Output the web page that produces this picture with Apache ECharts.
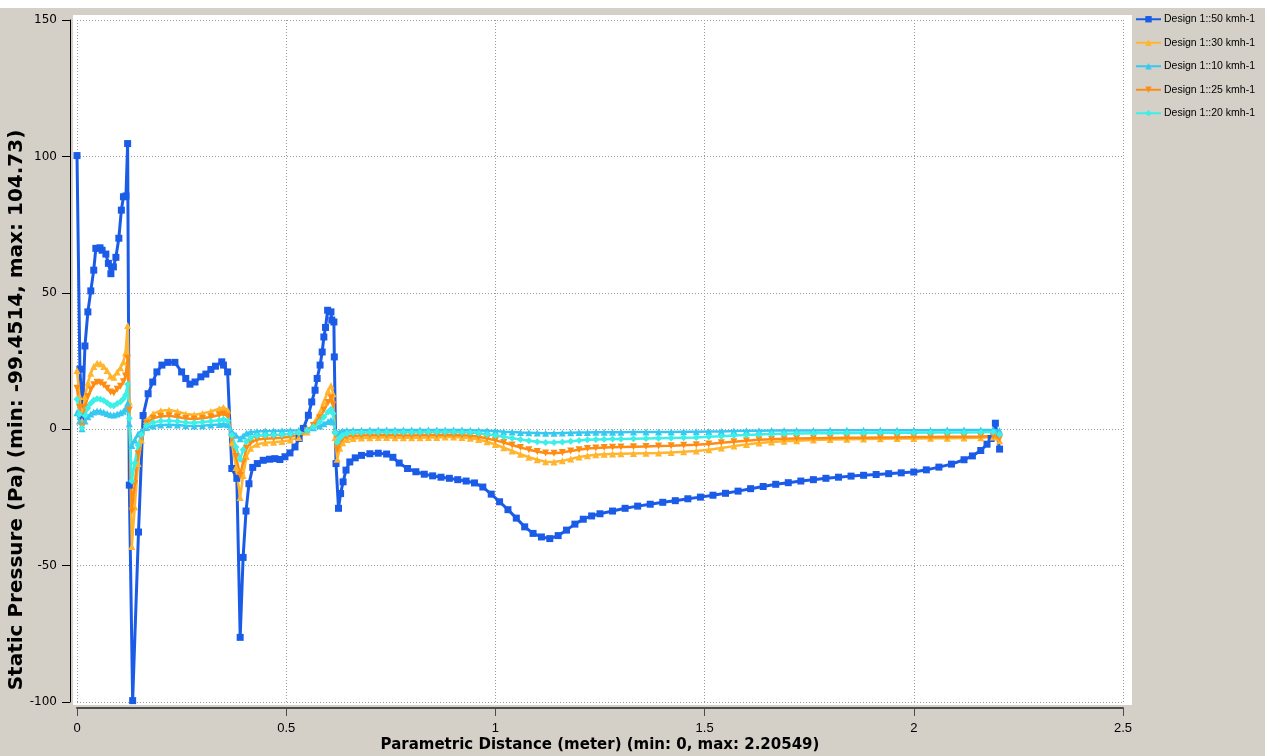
<!DOCTYPE html>
<html><head><meta charset="utf-8">
<script src="https://cdn.jsdelivr.net/npm/echarts@6/dist/echarts.min.js"></script>
<style>html,body{margin:0;padding:0;background:#d4d0c8;}#c{width:1265px;height:756px;}</style>
</head><body><div id="c"></div>
<script>
const seriesNames = ['Design 1::50 kmh-1','Design 1::30 kmh-1','Design 1::10 kmh-1','Design 1::25 kmh-1','Design 1::20 kmh-1'];
const xTicks = [0, 0.5, 1, 1.5, 2, 2.5];
const yTicks = [-100, -50, 0, 50, 100, 150];

const s50 = [[0,100.3],[0.007,22],[0.013,4.5],[0.019,30.5],[0.026,43],[0.033,50.7],[0.040,58.3],[0.045,66.3],[0.055,66.5],[0.060,65.6],[0.069,64.2],[0.075,60.8],[0.081,57],[0.087,59.5],[0.093,63],[0.100,70],[0.106,80.3],[0.111,85.2],[0.117,85.5],[0.121,104.7],[0.125,-20.5],[0.133,-99.5],[0.147,-37.7],[0.158,5],[0.170,13],[0.181,17.3],[0.191,21],[0.203,23.5],[0.217,24.5],[0.234,24.5],[0.250,21],[0.260,18.6],[0.270,16.5],[0.282,17.3],[0.296,19.2],[0.308,20.2],[0.320,21.9],[0.331,23.1],[0.346,24.7],[0.350,23.5],[0.360,21],[0.370,-14.4],[0.382,-18],[0.390,-76.3],[0.397,-47],[0.404,-30],[0.411,-20],[0.420,-14],[0.431,-12.6],[0.445,-11.4],[0.460,-11],[0.473,-10.8],[0.485,-11.1],[0.497,-10.1],[0.509,-8.7],[0.521,-6.5],[0.531,-3.4],[0.541,0.3],[0.553,5.1],[0.561,10],[0.569,14.3],[0.574,18.6],[0.581,23.5],[0.586,28.3],[0.590,33.8],[0.594,37.3],[0.599,43.6],[0.607,43],[0.609,40],[0.614,39.3],[0.615,26.5],[0.619,-12.6],[0.625,-29],[0.630,-23.6],[0.636,-19.3],[0.643,-15],[0.652,-12],[0.665,-10.5],[0.68,-9.6],[0.70,-9],[0.72,-8.8],[0.74,-9.1],[0.755,-10.3],[0.77,-12.4],[0.79,-14.4],[0.81,-15.6],[0.83,-16.5],[0.85,-17.1],[0.87,-17.6],[0.89,-18],[0.91,-18.5],[0.93,-19],[0.95,-19.7],[0.97,-21.2],[0.99,-23.8],[1.01,-26.6],[1.03,-29.5],[1.05,-32.6],[1.07,-35.8],[1.09,-38.2],[1.11,-39.5],[1.13,-40.1],[1.15,-39],[1.17,-37],[1.19,-34.8],[1.21,-33],[1.23,-31.8],[1.25,-31],[1.28,-30],[1.31,-29],[1.34,-28.2],[1.37,-27.5],[1.40,-26.8],[1.43,-26.2],[1.46,-25.5],[1.49,-24.9],[1.52,-24.2],[1.55,-23.5],[1.58,-22.7],[1.61,-21.8],[1.64,-21],[1.67,-20.2],[1.70,-19.6],[1.73,-19],[1.76,-18.5],[1.79,-18],[1.82,-17.6],[1.85,-17.2],[1.88,-16.9],[1.91,-16.6],[1.94,-16.3],[1.97,-16],[2.00,-15.7],[2.03,-14.9],[2.06,-13.9],[2.09,-12.8],[2.12,-11.2],[2.14,-9.8],[2.16,-7.8],[2.175,-5.5],[2.185,-3.4],[2.195,2.2],[2.205,-7.3]];

const s30 = [[0,21.5],[0.006,12],[0.012,3],[0.019,12],[0.026,17],[0.033,20.5],[0.040,23],[0.048,24.2],[0.056,24],[0.064,23],[0.072,21.5],[0.080,19.5],[0.088,19],[0.096,21],[0.104,22.5],[0.111,24.7],[0.116,28],[0.121,38],[0.125,10],[0.131,-43],[0.138,-28.5],[0.146,-12.6],[0.154,-4],[0.166,3.3],[0.182,5.7],[0.20,6.8],[0.22,7],[0.24,6.5],[0.26,5.6],[0.28,5.3],[0.30,5.8],[0.32,6.5],[0.34,7.5],[0.35,8],[0.36,7],[0.37,-5],[0.38,-14],[0.39,-25],[0.397,-17],[0.405,-10],[0.415,-7],[0.43,-5.5],[0.45,-5],[0.47,-4.8],[0.49,-4.5],[0.51,-4],[0.53,-3],[0.55,-1],[0.565,2],[0.58,6],[0.59,10],[0.60,14],[0.607,16],[0.612,13],[0.617,-3],[0.622,-11],[0.628,-7],[0.635,-5],[0.645,-3.8],[0.66,-3.4],[0.68,-3.2],[0.70,-3.1],[0.72,-3],[0.74,-3],[0.76,-3.1],[0.78,-3.1],[0.80,-3.1],[0.82,-3.1],[0.84,-3],[0.86,-3],[0.88,-2.9],[0.90,-2.9],[0.92,-3],[0.94,-3.3],[0.96,-3.8],[0.98,-4.6],[1.00,-5.6],[1.02,-6.8],[1.04,-8],[1.06,-9.2],[1.08,-10.3],[1.10,-11.2],[1.12,-11.9],[1.14,-12],[1.16,-11.6],[1.18,-10.9],[1.20,-10.2],[1.22,-9.7],[1.24,-9.4],[1.26,-9.2],[1.28,-9.1],[1.30,-9],[1.33,-8.9],[1.36,-8.8],[1.39,-8.7],[1.42,-8.5],[1.45,-8.3],[1.48,-8],[1.51,-7.5],[1.54,-6.9],[1.57,-6.2],[1.60,-5.6],[1.63,-5.1],[1.66,-4.7],[1.69,-4.4],[1.72,-4.2],[1.76,-4],[1.80,-3.8],[1.84,-3.7],[1.88,-3.6],[1.92,-3.5],[1.96,-3.4],[2.00,-3.4],[2.04,-3.3],[2.08,-3.3],[2.12,-3.2],[2.16,-3.1],[2.19,-2.9],[2.205,-4.2]];

const s10 = [[0,6],[0.006,3],[0.012,0.2],[0.019,3],[0.026,4.6],[0.033,5.6],[0.040,6.3],[0.048,6.7],[0.056,6.6],[0.064,6.2],[0.072,5.8],[0.080,5.3],[0.088,5.2],[0.096,5.6],[0.104,6],[0.111,6.6],[0.116,7.4],[0.121,9.5],[0.125,2],[0.131,-6],[0.138,-4],[0.146,-1.8],[0.154,-0.6],[0.166,0.6],[0.182,1.2],[0.20,1.5],[0.22,1.6],[0.24,1.5],[0.26,1.3],[0.28,1.2],[0.30,1.3],[0.32,1.5],[0.34,1.7],[0.35,1.9],[0.36,1.6],[0.37,-0.8],[0.38,-2.2],[0.39,-3.5],[0.397,-2.5],[0.405,-1.5],[0.415,-1],[0.43,-0.8],[0.45,-0.7],[0.47,-0.7],[0.49,-0.6],[0.51,-0.5],[0.53,-0.4],[0.55,0],[0.565,0.5],[0.58,1.2],[0.59,2],[0.60,2.8],[0.607,3.3],[0.612,2.6],[0.617,-0.4],[0.622,-1.5],[0.628,-1],[0.635,-0.7],[0.645,-0.5],[0.66,-0.4],[0.68,-0.4],[0.70,-0.3],[0.72,-0.3],[0.74,-0.3],[0.76,-0.3],[0.78,-0.3],[0.80,-0.3],[0.82,-0.3],[0.84,-0.3],[0.86,-0.3],[0.88,-0.3],[0.90,-0.3],[0.92,-0.3],[0.94,-0.4],[0.96,-0.5],[0.98,-0.6],[1.00,-0.7],[1.02,-0.9],[1.04,-1],[1.06,-1.2],[1.08,-1.3],[1.10,-1.4],[1.12,-1.5],[1.14,-1.5],[1.16,-1.4],[1.18,-1.3],[1.20,-1.2],[1.22,-1.2],[1.24,-1.1],[1.26,-1.1],[1.28,-1.1],[1.30,-1.1],[1.33,-1],[1.36,-1],[1.39,-1],[1.42,-1],[1.45,-0.9],[1.48,-0.9],[1.51,-0.8],[1.54,-0.8],[1.57,-0.7],[1.60,-0.6],[1.63,-0.6],[1.66,-0.5],[1.69,-0.5],[1.72,-0.5],[1.76,-0.5],[1.80,-0.4],[1.84,-0.4],[1.88,-0.4],[1.92,-0.4],[1.96,-0.4],[2.00,-0.4],[2.04,-0.4],[2.08,-0.3],[2.12,-0.3],[2.16,-0.3],[2.19,-0.3],[2.205,-0.6]];

const s25 = [[0,15],[0.006,8],[0.012,1],[0.019,8],[0.026,12],[0.033,14.5],[0.040,16.3],[0.048,17.2],[0.056,17],[0.064,16.2],[0.072,15],[0.080,13.6],[0.088,13.3],[0.096,14.6],[0.104,15.7],[0.111,17.4],[0.116,19.5],[0.121,26],[0.125,7],[0.131,-30],[0.138,-20],[0.146,-9],[0.154,-3],[0.166,2.3],[0.182,4],[0.20,4.7],[0.22,4.9],[0.24,4.5],[0.26,3.9],[0.28,3.7],[0.30,4],[0.32,4.5],[0.34,5.2],[0.35,5.6],[0.36,4.8],[0.37,-3.5],[0.38,-10],[0.39,-17],[0.397,-12],[0.405,-7],[0.415,-5],[0.43,-3.8],[0.45,-3.5],[0.47,-3.3],[0.49,-3.1],[0.51,-2.8],[0.53,-2],[0.55,-0.6],[0.565,1.4],[0.58,4.2],[0.59,7],[0.60,9.8],[0.607,11.5],[0.612,9],[0.617,-2],[0.622,-7.5],[0.628,-5],[0.635,-3.5],[0.645,-2.7],[0.66,-2.4],[0.68,-2.3],[0.70,-2.2],[0.72,-2.2],[0.74,-2.2],[0.76,-2.2],[0.78,-2.3],[0.80,-2.3],[0.82,-2.2],[0.84,-2.2],[0.86,-2.1],[0.88,-2.1],[0.90,-2.1],[0.92,-2.2],[0.94,-2.4],[0.96,-2.8],[0.98,-3.4],[1.00,-4.1],[1.02,-4.9],[1.04,-5.8],[1.06,-6.7],[1.08,-7.5],[1.10,-8.2],[1.12,-8.7],[1.14,-8.8],[1.16,-8.5],[1.18,-8],[1.20,-7.5],[1.22,-7.1],[1.24,-6.9],[1.26,-6.7],[1.28,-6.6],[1.30,-6.5],[1.33,-6.4],[1.36,-6.3],[1.39,-6.2],[1.42,-6.1],[1.45,-5.9],[1.48,-5.7],[1.51,-5.4],[1.54,-5],[1.57,-4.6],[1.60,-4.2],[1.63,-3.9],[1.66,-3.7],[1.69,-3.5],[1.72,-3.4],[1.76,-3.3],[1.80,-3.2],[1.84,-3.1],[1.88,-3.1],[1.92,-3],[1.96,-3],[2.00,-2.9],[2.04,-2.9],[2.08,-2.8],[2.12,-2.8],[2.16,-2.7],[2.19,-2.5],[2.205,-3.4]];

const s20 = [[0,11],[0.006,5.5],[0.012,0.5],[0.019,5],[0.026,7.8],[0.033,9.5],[0.040,10.6],[0.048,11.2],[0.056,11],[0.064,10.5],[0.072,9.7],[0.080,8.8],[0.088,8.6],[0.096,9.4],[0.104,10.1],[0.111,11.2],[0.116,12.5],[0.121,16.5],[0.125,4],[0.131,-19],[0.138,-12.5],[0.146,-5.8],[0.154,-2],[0.166,1.4],[0.182,2.5],[0.20,3],[0.22,3.1],[0.24,2.9],[0.26,2.5],[0.28,2.4],[0.30,2.6],[0.32,2.9],[0.34,3.3],[0.35,3.6],[0.36,3.1],[0.37,-2.2],[0.38,-6.5],[0.39,-11],[0.397,-7.5],[0.405,-4.5],[0.415,-3.2],[0.43,-2.4],[0.45,-2.2],[0.47,-2.1],[0.49,-2],[0.51,-1.8],[0.53,-1.3],[0.55,-0.4],[0.565,0.9],[0.58,2.7],[0.59,4.5],[0.60,6.3],[0.607,7.3],[0.612,5.8],[0.617,-1.3],[0.622,-4.8],[0.628,-3.2],[0.635,-2.2],[0.645,-1.6],[0.66,-1.3],[0.68,-1.2],[0.70,-1.1],[0.72,-1.1],[0.74,-1.1],[0.76,-1.1],[0.78,-1.1],[0.80,-1.1],[0.82,-1.1],[0.84,-1],[0.86,-1],[0.88,-1],[0.90,-1],[0.92,-1.1],[0.94,-1.2],[0.96,-1.5],[0.98,-1.9],[1.00,-2.3],[1.02,-2.8],[1.04,-3.3],[1.06,-3.8],[1.08,-4.2],[1.10,-4.6],[1.12,-4.9],[1.14,-4.9],[1.16,-4.7],[1.18,-4.4],[1.20,-4.1],[1.22,-3.9],[1.24,-3.8],[1.26,-3.7],[1.28,-3.6],[1.30,-3.6],[1.33,-3.5],[1.36,-3.4],[1.39,-3.3],[1.42,-3.2],[1.45,-3.1],[1.48,-3],[1.51,-2.8],[1.54,-2.6],[1.57,-2.3],[1.60,-2.1],[1.63,-1.9],[1.66,-1.8],[1.69,-1.7],[1.72,-1.6],[1.76,-1.5],[1.80,-1.5],[1.84,-1.4],[1.88,-1.4],[1.92,-1.3],[1.96,-1.3],[2.00,-1.3],[2.04,-1.2],[2.08,-1.2],[2.12,-1.2],[2.16,-1.1],[2.19,-1],[2.205,-1.9]];

const colors = ['#1a5ce8','#ffb52e','#36c8f0','#ff8c12','#3cf0e8'];
const symbols = ['rect','triangle','triangle','triangle','diamond'];
const symbolRot = [0,0,0,180,0];
const datas = [s50, s30, s10, s25, s20];

const chart = echarts.init(document.getElementById('c'), null, {renderer:'canvas'});
chart.setOption({
  animation: false,
  backgroundColor: '#d4d0c8',
  graphic: [
    {type:'rect', z:-10, silent:true, shape:{x:0,y:0,width:1265,height:8}, style:{fill:'#ffffff'}},
    {type:'rect', z:-10, silent:true, shape:{x:73,y:15,width:1059,height:690}, style:{fill:'#ffffff'}}
  ],
  legend: {
    orient:'vertical', left:1135, top:13, itemWidth:25, itemHeight:8, itemGap:11, padding:0,
    textStyle:{fontFamily:'Liberation Sans', fontSize:10.5, color:'#000', padding:[0,0,0,-2], lineHeight:12.5},
    data: seriesNames
  },
  grid: {left:77, right:142, top:20, bottom:54, containLabel:false, outerBoundsMode:'none'},
  xAxis: {
    type:'value', min:xTicks[0], max:xTicks[xTicks.length-1], interval:0.5, offset:6,
    axisLine:{show:true, onZero:false, lineStyle:{color:'#4d4d4d', width:2}},
    axisTick:{show:true, length:8, lineStyle:{color:'#4d4d4d'}},
    axisLabel:{margin:14, color:'#000', fontFamily:'Liberation Sans', fontSize:13},
    splitLine:{show:true, lineStyle:{type:[1,2], color:'#9a9a9a'}},
    name:'Parametric Distance (meter) (min: 0, max: 2.20549)',
    nameLocation:'middle', nameGap:30, nameMoveOverlap:false,
    nameTextStyle:{fontFamily:'DejaVu Sans', fontWeight:'bold', fontSize:15, color:'#000'}
  },
  yAxis: {
    type:'value', min:yTicks[0], max:yTicks[yTicks.length-1], interval:50, offset:7,
    axisLine:{show:true, onZero:false, lineStyle:{color:'#000', width:1}},
    axisTick:{show:true, length:8, lineStyle:{color:'#000'}},
    axisLabel:{margin:13, color:'#000', fontFamily:'DejaVu Sans', fontSize:12},
    splitLine:{show:true, lineStyle:{type:[1,2], color:'#9a9a9a'}},
    name:'Static Pressure (Pa) (min: -99.4514, max: 104.73)',
    nameLocation:'middle', nameGap:43, nameMoveOverlap:false,
    nameTextStyle:{fontFamily:'DejaVu Sans', fontWeight:'bold', fontSize:20, color:'#000', padding:[0,98,0,0]}
  },
  series: datas.map((d,i)=>({
    name: seriesNames[i], type:'line', data:d,
    symbol: symbols[i], symbolRotate: symbolRot[i], symbolSize: 7,
    showAllSymbol:true, clip:false,
    lineStyle:{color:colors[i], width: i===0?3:2.5},
    itemStyle:{color:colors[i], borderWidth:0}
  }))
});
</script></body></html>
